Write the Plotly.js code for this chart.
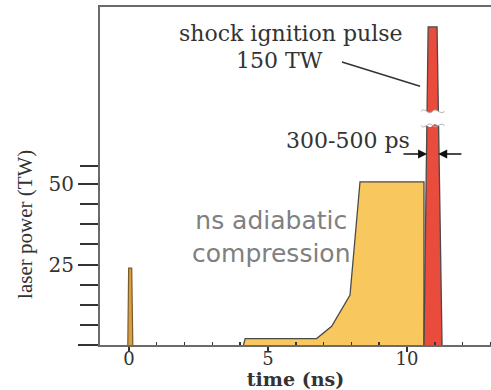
<!DOCTYPE html>
<html>
<head>
<meta charset="utf-8">
<script src="https://cdn.plot.ly/plotly-3.0.1.min.js"></script>
<style>html,body{margin:0;padding:0;background:#fff;}#chart{width:491px;height:390px;}</style>
</head>
<body>
<div id="chart"></div>
<script>
// Pre-pulse at t=0
const prePulseTime = [-0.04, -0.01, 0.10, 0.14];
const prePulsePower = [0, 23.9, 23.9, 0];
// ns adiabatic compression pulse
const compressionTime = [4.12, 4.18, 6.75, 7.29, 7.95, 8.31, 10.61, 10.61];
const compressionPower = [0, 2.0, 2.0, 5.8, 15.5, 50.7, 50.7, 0];
// Shock ignition spike (drawn with broken axis; true peak 150 TW)
const shockTime = [10.61, 10.76, 11.08, 11.26];
const shockPower = [0, 98.8, 98.8, 0];

const xTickVals = [0, 5, 10];
const xTickText = ['0', '5', '10'];
const yTickVals = [0, 25, 50];
const yTickText = ['', '25', '50'];
const yMinorVals = [6.25, 12.5, 18.75, 31.25, 37.5, 43.75, 55.5];

const serif = 'DejaVu Serif';
const txt = '#333333';
const outline = '#4a4a4a';

const traces = [
  {x: prePulseTime, y: prePulsePower, type: 'scatter', mode: 'lines', fill: 'toself',
   fillcolor: '#d9a040', line: {color: '#7a5a2a', width: 1.2}, hoverinfo: 'skip'},
  {x: compressionTime, y: compressionPower, type: 'scatter', mode: 'lines', fill: 'toself',
   fillcolor: '#f8c85e', line: {color: outline, width: 1.3}, hoverinfo: 'skip'},
  {x: shockTime, y: shockPower, type: 'scatter', mode: 'lines', fill: 'toself',
   fillcolor: '#e94b3c', line: {color: outline, width: 1.3}, hoverinfo: 'skip'}
];

const breakLo = 68.2, breakHi = 72.6;
const layout = {
  width: 491, height: 390,
  margin: {l: 100, r: 0, t: 7, b: 45},
  paper_bgcolor: '#fff', plot_bgcolor: '#fff',
  showlegend: false,
  xaxis: {
    range: [-1.04, 13.02], showgrid: false, zeroline: false,
    showline: true, linecolor: '#6a6a6a', linewidth: 2, mirror: true,
    tickvals: xTickVals, ticktext: xTickText, ticks: 'outside', ticklen: 5,
    tickwidth: 1.5, tickcolor: '#333', ticklabelstandoff: -9,
    tickfont: {family: serif, size: 18, color: txt},
    minor: {tickvals: [1,2,3,4,6,7,8,9,11,12,13], ticks: 'inside', ticklen: 3, tickwidth: 1.5, tickcolor: '#333'},
    title: {text: 'time (ns)', standoff: 6, font: {family: serif, size: 19, color: txt, weight: 'bold'}}
  },
  yaxis: {
    range: [0, 105], showgrid: false, zeroline: false,
    showline: true, linecolor: '#6a6a6a', linewidth: 2, mirror: false,
    tickvals: yTickVals, ticktext: yTickText, ticks: 'outside', ticklen: 20,
    tickwidth: 2, tickcolor: '#333',
    tickfont: {family: serif, size: 20, color: txt},
    minor: {tickvals: yMinorVals, ticks: 'outside', ticklen: 18, tickwidth: 2, tickcolor: '#333'}
  },
  shapes: [
    // axis break across the spike
    {type: 'path', xref: 'x', yref: 'y', layer: 'above',
     path: `M 10.5,${breakHi} C 10.65,${breakHi+1.6} 10.75,${breakHi-1.6} 10.92,${breakHi} C 11.05,${breakHi+1.4} 11.2,${breakHi-1.4} 11.35,${breakHi} L 11.35,${breakLo} C 11.2,${breakLo-1.4} 11.05,${breakLo+1.4} 10.92,${breakLo} C 10.75,${breakLo-1.6} 10.65,${breakLo+1.6} 10.5,${breakLo} Z`,
     fillcolor: '#ffffff', line: {width: 0}},
    {type: 'path', xref: 'x', yref: 'y', layer: 'above',
     path: `M 10.5,${breakHi} C 10.65,${breakHi+1.6} 10.75,${breakHi-1.6} 10.92,${breakHi} C 11.05,${breakHi+1.4} 11.2,${breakHi-1.4} 11.35,${breakHi}`,
     line: {color: '#b0b0b0', width: 1}},
    {type: 'path', xref: 'x', yref: 'y', layer: 'above',
     path: `M 10.5,${breakLo} C 10.65,${breakLo-1.6} 10.75,${breakLo+1.6} 10.92,${breakLo} C 11.05,${breakLo-1.4} 11.2,${breakLo+1.4} 11.35,${breakLo}`,
     line: {color: '#b0b0b0', width: 1}},
    // leader line from label to spike
    {type: 'line', xref: 'x', yref: 'y', x0: 7.66, y0: 87.9, x1: 10.47, y1: 80.4,
     line: {color: '#333', width: 1.5}}
  ],
  annotations: [
    {x: 5.83, y: 96.9, xref: 'x', yref: 'y', text: 'shock ignition pulse', showarrow: false,
     font: {family: serif, size: 22, color: txt}, xanchor: 'center', yanchor: 'middle'},
    {x: 5.43, y: 88.3, xref: 'x', yref: 'y', text: '150 TW', showarrow: false,
     font: {family: serif, size: 22, color: txt}, xanchor: 'center', yanchor: 'middle'},
    {x: 7.88, y: 63.6, xref: 'x', yref: 'y', text: '300-500 ps', showarrow: false,
     font: {family: serif, size: 22, color: txt}, xanchor: 'center', yanchor: 'middle'},
    {x: 5.11, y: 33.6, xref: 'x', yref: 'y', text: 'ns adiabatic<br>compression', showarrow: false,
     font: {family: 'DejaVu Sans', size: 25, color: '#808080'}, xanchor: 'center', yanchor: 'middle'},
    {x: -0.192, y: 37.6, xref: 'paper', yref: 'y', text: 'laser power (TW)', showarrow: false,
     textangle: -90, font: {family: 'Liberation Serif', size: 21, color: txt}, xanchor: 'center', yanchor: 'middle'},
    // width arrows
    {x: 10.72, y: 59.3, xref: 'x', yref: 'y', ax: 9.82, ay: 59.3, axref: 'x', ayref: 'y', text: '',
     showarrow: true, arrowhead: 2, arrowsize: 1.2, arrowwidth: 1.5, arrowcolor: '#111', standoff: 0},
    {x: 11.12, y: 59.3, xref: 'x', yref: 'y', ax: 12.01, ay: 59.3, axref: 'x', ayref: 'y', text: '',
     showarrow: true, arrowhead: 2, arrowsize: 1.2, arrowwidth: 1.5, arrowcolor: '#111', standoff: 0}
  ]
};

Plotly.newPlot('chart', traces, layout, {displayModeBar: false, staticPlot: true});
</script>
</body>
</html>
